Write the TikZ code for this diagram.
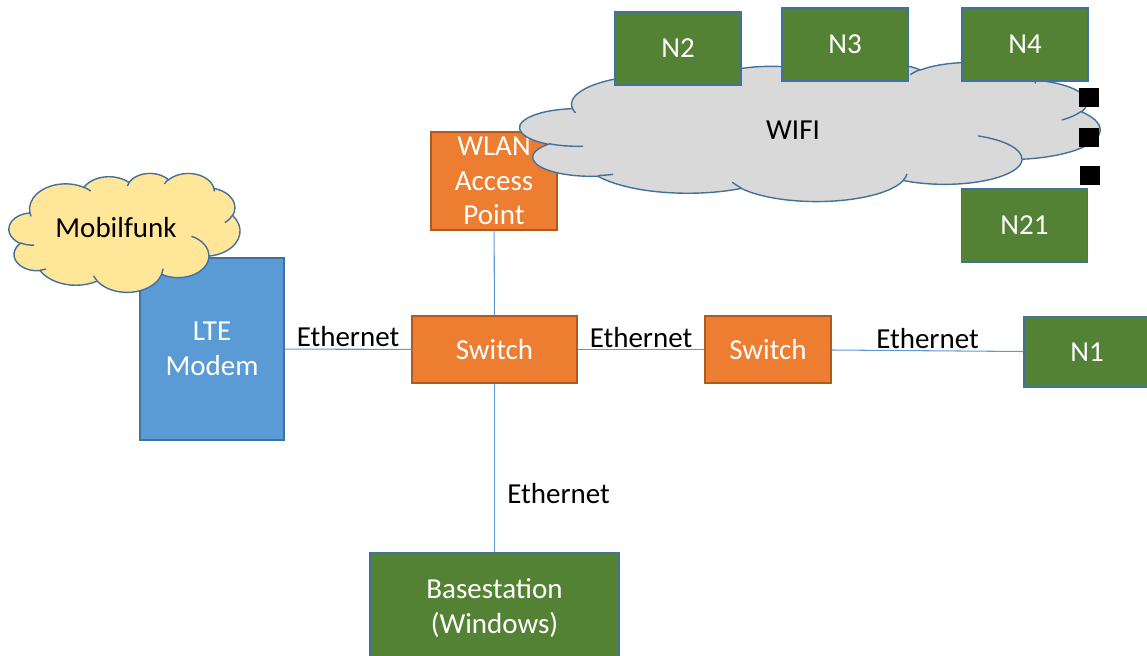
\documentclass[tikz,border=0pt]{standalone}
\usepackage{fontspec}
\setmainfont{Carlito}
\definecolor{lteblue}{HTML}{5B9BD5}
\definecolor{edgeblue}{HTML}{41719C}
\definecolor{sworange}{HTML}{ED7D31}
\definecolor{swedge}{HTML}{AE5A21}
\definecolor{nodegreen}{HTML}{548235}
\definecolor{mobilyellow}{HTML}{FFE699}
\definecolor{wifigrey}{HTML}{D9D9D9}

% one puff of the cloud: x radius, y radius, start angle, sweep (ray angles)
\tikzset{ofarc/.style n args={4}{x radius=#1, y radius=#2,
    start angle={atan2(#1*sin(#3),#2*cos(#3))},
    delta angle={mod(atan2(#1*sin(#3+#4),#2*cos(#3+#4))-atan2(#1*sin(#3),#2*cos(#3))+720,360)}}}

% cloud outline in a 432 x 432 box
\newcommand{\wolkenrand}{(39,143.7)
    arc[ofarc={67.53}{91.90}{-190.4875}{123.7805}]
    arc[ofarc={53.33}{72.67}{-144.1024}{89.9452}]
    arc[ofarc={43.65}{59.45}{-145.8079}{99.7230}]
    arc[ofarc={48.57}{65.95}{-130.9861}{117.2417}]
    arc[ofarc={53.33}{72.73}{-78.7089}{109.0269}]
    arc[ofarc={67.75}{92.20}{-46.2673}{130.2690}]
    arc[ofarc={57.85}{78.67}{0.6250}{114.0333}]
    arc[ofarc={67.52}{92.15}{22.4516}{115.1726}]
    arc[ofarc={77.20}{105.43}{66.2426}{75.7110}]
    arc[ofarc={43.60}{59.18}{-274.9421}{146.7356}]
    arc[ofarc={43.45}{59.45}{-246.8285}{152.5189}] -- cycle}
% the inner folds
\newcommand{\wolkenfalten}{(46.93,261.77) arc[ofarc={43.45}{59.45}{86.742}{26.4295}]
    (69.28,348.99) arc[ofarc={43.60}{59.18}{73.6105}{11.4475}]
    (164.78,390.90) arc[ofarc={67.52}{92.15}{137.6242}{14.0811}]
    (288.27,347.51) arc[ofarc={67.52}{92.15}{6.4533}{15.9984}]
    (341.29,229.54) arc[ofarc={57.85}{78.67}{-70.2924}{70.9174}]
    (417.98,153.54) arc[ofarc={53.33}{72.73}{30.3180}{27.7515}]
    (383.24,54.26) arc[ofarc={48.57}{65.95}{-13.7443}{14.8589}]
    (290.78,39.52) arc[ofarc={48.57}{65.95}{-149.1815}{18.1954}]
    (221.41,47.20) arc[ofarc={43.65}{59.45}{-163.4943}{17.6864}]
    (140.00,51.92) arc[ofarc={67.53}{91.90}{-66.7070}{12.3194}]
    (41.27,157.89) arc[ofarc={67.53}{91.90}{157.6544}{11.8582}]}

\begin{document}
\begin{tikzpicture}[x=0.02cm, y=-0.02cm,
    font=\fontsize{16.5}{19.8}\selectfont,
    box/.style={draw, line width=0.7pt, align=center, text=white, inner sep=0pt},
    swbox/.style={box, fill=sworange, draw=swedge},
    greenbox/.style={box, fill=nodegreen, draw=edgeblue, minimum width=2.52cm, minimum height=1.46cm},
    wolke/.style={draw=edgeblue, line width=0.8pt},
    link/.style={lteblue, line width=0.6pt},
    lbl/.style={inner sep=1pt, text=black}]
    \useasboundingbox (0,0) rectangle (1147,656);

    % boxes behind the clouds
    \node[box, fill=lteblue, draw=edgeblue, minimum width=2.88cm, minimum height=3.64cm] (lte) at (212,349) {LTE\\Modem};
    \node[swbox, minimum width=2.52cm, minimum height=1.96cm] (wlan) at (494,181) {WLAN\\Access\\Point};

    % clouds
    \begin{scope}[shift={(9,173)}, x=0.010694cm, y=-0.005509cm]
        \fill[mobilyellow] \wolkenrand;
        \draw[wolke] \wolkenrand;
        \draw[wolke] \wolkenfalten;
    \end{scope}
    \node (mobil) at (116,228) {Mobilfunk};
    \begin{scope}[shift={(520,62)}, x=0.026852cm, y=-0.006435cm]
        \fill[wifigrey] \wolkenrand;
        \draw[wolke] \wolkenrand;
        \draw[wolke] \wolkenfalten;
    \end{scope}
    \node (wifi) at (793,130) {WIFI};

    % switches and nodes
    \node[swbox, minimum width=3.3cm, minimum height=1.34cm] (sw1) at (494.5,349.5) {Switch};
    \node[swbox, minimum width=2.52cm, minimum height=1.34cm] (sw2) at (768,349.5) {Switch};
    \node[greenbox, minimum height=1.4cm] (n1) at (1087,352) {N1};
    \node[greenbox, minimum width=4.98cm, minimum height=2.2cm] (base) at (494.5,608) {Basestation\\(Windows)};
    \node[greenbox] (n2) at (678,48.5) {N2};
    \node[greenbox] (n3) at (845,44.5) {N3};
    \node[greenbox] (n4) at (1025,44.5) {N4};
    \node[greenbox] (n21) at (1024.5,225.5) {N21};

    % dots
    \node[fill=black, minimum width=0.4cm, minimum height=0.38cm, inner sep=0pt] (dot1) at (1089,97) {};
    \node[fill=black, minimum width=0.4cm, minimum height=0.38cm, inner sep=0pt] (dot2) at (1089,137) {};
    \node[fill=black, minimum width=0.4cm, minimum height=0.38cm, inner sep=0pt] (dot3) at (1090,175) {};

    \draw[link] (lte) -- node[lbl, above] {Ethernet} (sw1);
    \draw[link] (sw1) -- node[lbl, above] {Ethernet} (sw2);
    \draw[link] (sw2) -- node[lbl, above] {Ethernet} (n1);
    \draw[link] (wlan) -- (sw1);
    \draw[link] (sw1) -- node[lbl, right=6pt, pos=0.65] {Ethernet} (base);

\end{tikzpicture}
\end{document}
